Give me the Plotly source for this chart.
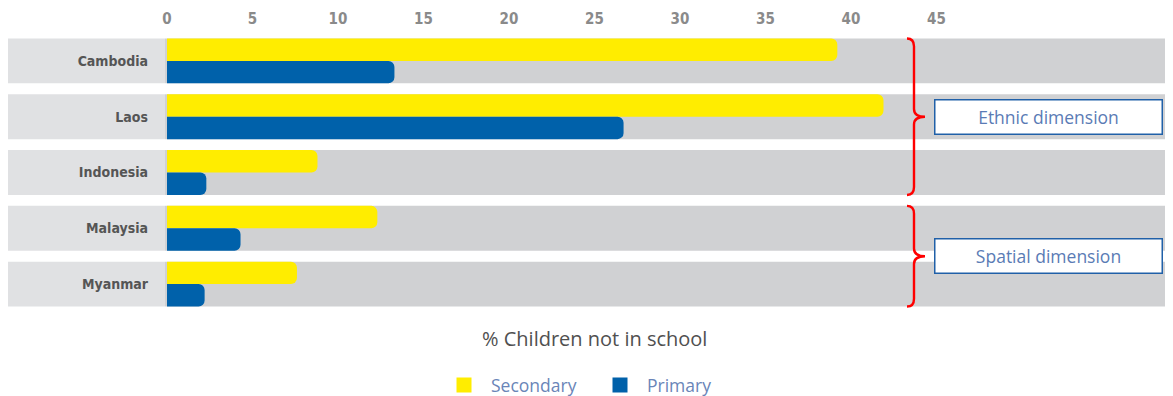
import plotly.graph_objects as go

countries = ["Cambodia", "Laos", "Indonesia", "Malaysia", "Myanmar"]
secondary = [39.2, 41.9, 8.8, 12.3, 7.6]
primary = [13.3, 26.7, 2.3, 4.3, 2.2]
x_ticks = [0, 5, 10, 15, 20, 25, 30, 35, 40, 45]
groups = [("Ethnic dimension", 0, 2), ("Spatial dimension", 3, 4)]

# the page body adds an 8px margin, so the figure is 8px smaller each way
OFF = 8
W, H = 1173 - OFF, 396 - OFF
L, T, B = 167 - OFF, 32.5 - OFF, 83.5
YELLOW, BLUE = "#FFED00", "#0061AA"
COND = "DejaVu Sans Condensed, Liberation Sans Narrow, DejaVu Sans, sans-serif"


def px(x):
    # page pixel column -> paper x
    return (x - OFF - L) / (W - L)


def py(y):
    # page pixel row -> paper y
    return (H - B - (y - OFF)) / (H - B - T)


fig = go.Figure()

fig.add_trace(go.Bar(
    y=countries, x=secondary, name="Secondary", orientation="h",
    marker=dict(color=YELLOW, cornerradius=6, line=dict(width=0)),
    showlegend=False,
))
fig.add_trace(go.Bar(
    y=countries, x=primary, name="Primary", orientation="h",
    marker=dict(color=BLUE, cornerradius=6, line=dict(width=0)),
    showlegend=False,
))
# square legend keys
for name, col in [("Secondary", YELLOW), ("Primary", BLUE)]:
    fig.add_trace(go.Scatter(x=[None], y=[None], mode="markers", name=name,
                             marker=dict(symbol="square", size=15, color=col)))

# grey row bands
for i, _ in enumerate(countries):
    fig.add_shape(type="rect", xref="paper", yref="y", layer="below",
                  x0=px(7), x1=px(165), y0=i - 0.402, y1=i + 0.402,
                  fillcolor="#E0E1E3", line_width=0)
    fig.add_shape(type="rect", xref="paper", yref="y", layer="below",
                  x0=px(165), x1=1, y0=i - 0.402, y1=i + 0.402,
                  fillcolor="#D0D1D3", line_width=0)

# curly braces and group boxes
xe, xm, xt = px(907), px(914), px(925)
for label, a, b in groups:
    top, bot = a - 0.402, b + 0.402
    mid = (top + bot) / 2
    d = 0.14
    path = (f"M {xe},{top} Q {xm},{top} {xm},{top + d} L {xm},{mid - d} "
            f"Q {xm},{mid} {xt},{mid} Q {xm},{mid} {xm},{mid + d} "
            f"L {xm},{bot - d} Q {xm},{bot} {xe},{bot}")
    fig.add_shape(type="path", xref="paper", yref="y", path=path,
                  line=dict(color="#FF0000", width=2.4))
    fig.add_annotation(x=px(1048.5), y=mid, xref="paper", yref="y",
                       xanchor="center", yanchor="middle",
                       text=label, showarrow=False, width=224, height=31,
                       bgcolor="white", bordercolor="#2060A8", borderwidth=1.5,
                       font=dict(family="Open Sans", size=17.5, color="#5A7BB5"))

fig.add_annotation(x=px(594), y=py(339), xref="paper", yref="paper",
                   xanchor="center", yanchor="middle",
                   text="% Children not in school", showarrow=False,
                   font=dict(family="Open Sans", size=20, color="#505050"))

fig.update_layout(
    width=W, height=H,
    margin=dict(l=L, r=0, t=T, b=B, autoexpand=False, pad=0),
    plot_bgcolor="white", paper_bgcolor="white",
    barmode="group", bargap=0.196, bargroupgap=0,
    showlegend=True,
    legend=dict(orientation="h", x=px(437), xanchor="left",
                y=py(386), yanchor="middle", itemwidth=44,
                entrywidth=97, entrywidthmode="pixels",
                font=dict(family="Open Sans", size=17.5, color="#6A85B8")),
    xaxis=dict(side="top", range=[0, (W - L) / 17.1], tickvals=x_ticks,
               showgrid=False, zeroline=False, showline=False, ticks="",
               ticklabelstandoff=5, automargin=False,
               tickfont=dict(family=COND, size=15, color="#8A8A8A",
                             weight="bold")),
    yaxis=dict(autorange="reversed", showgrid=False, zeroline=False,
               showline=False, ticks="", ticklabelstandoff=18, automargin=False,
               tickfont=dict(family=COND, size=14, color="#555555",
                             weight="bold")),
)

fig.write_html("out.html")
